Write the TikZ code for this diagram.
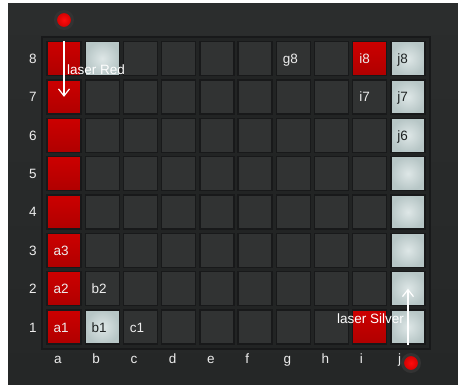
\documentclass[tikz,border=0pt]{standalone}
\usepackage{fontspec}
\setmainfont{Liberation Sans}
\usetikzlibrary{arrows.meta}
\definecolor{panelbg}{HTML}{252727}
\definecolor{panelbgtop}{HTML}{2B2D2D}
\definecolor{framebg}{HTML}{222424}
\definecolor{cellbg}{HTML}{313333}
\definecolor{celledge}{HTML}{18191A}
\definecolor{redtop}{HTML}{CC0000}
\definecolor{redbot}{HTML}{B00000}
\definecolor{silverin}{HTML}{DEE7E7}
\definecolor{silverout}{HTML}{B7C6C6}
\definecolor{labtext}{HTML}{EDEDED}
\definecolor{darktext}{HTML}{1E2222}
\newcommand\setcell[3]{\expandafter\def\csname CT#1\endcsname{#2}\expandafter\def\csname CL#1\endcsname{#3}}
\setcell{a8}{redcell}{}
\setcell{a7}{redcell}{}
\setcell{a6}{redcell}{}
\setcell{a5}{redcell}{}
\setcell{a4}{redcell}{}
\setcell{a3}{redcell}{a3}
\setcell{a2}{redcell}{a2}
\setcell{a1}{redcell}{a1}
\setcell{b8}{silvercell}{}
\setcell{b2}{darkcell}{b2}
\setcell{b1}{silvercell}{b1}
\setcell{c1}{darkcell}{c1}
\setcell{g8}{darkcell}{g8}
\setcell{i8}{redcell}{i8}
\setcell{i7}{darkcell}{i7}
\setcell{i1}{redcell}{}
\setcell{j8}{silvercell}{j8}
\setcell{j7}{silvercell}{j7}
\setcell{j6}{silvercell}{j6}
\setcell{j5}{silvercell}{}
\setcell{j4}{silvercell}{}
\setcell{j3}{silvercell}{}
\setcell{j2}{silvercell}{}
\setcell{j1}{silvercell}{}
\tikzset{
  cellbase/.style={rectangle, minimum width=34pt, minimum height=34pt, inner ysep=0pt,
    inner xsep=6.5pt, text width=21pt, align=left, text height=10pt, text depth=0pt,
    draw=celledge, line width=1.4pt},
  darkcell/.style={cellbase, fill=cellbg, text=labtext},
  redcell/.style={cellbase, top color=redtop, bottom color=redbot, text=labtext},
  silvercell/.style={cellbase, inner color=silverin, outer color=silverout, text=darktext},
  axislabel/.style={text=labtext, inner sep=0pt},
  lasertext/.style={text=white, inner sep=0pt},
  laser/.style={draw=white, line width=1.2pt, -{Straight Barb[length=7pt,width=11pt,line width=1.2pt]}},
  button/.style={circle, minimum size=17pt, inner sep=0pt, inner color=red!95!white, outer color=red!80!black,
    draw=black!80, line width=3pt}
}
\begin{document}
\begin{tikzpicture}[x=1pt,y=-1pt, font=\fontsize{13.5}{16}\selectfont]
\useasboundingbox (0,0) rectangle (458,388);
\fill[white] (0,0) rectangle (458,388);
\fill[top color=panelbgtop, bottom color=panelbg] (8,3) rectangle (458,384);
\draw[fill=framebg, draw=celledge, line width=1.5pt] (42,37) rectangle (430,349);
\node[button] (btn-top) at (64,20) {};
\node[button] (btn-bottom) at (411,363) {};
\foreach \c [count=\i from 0] in {a,b,c,d,e,f,g,h,i,j} {
  \foreach \r in {1,...,8} {
    \edef\key{\c\r}
    \ifcsname CT\key\endcsname
      \edef\sty{\csname CT\key\endcsname}\edef\lab{\csname CL\key\endcsname}
    \else
      \def\sty{darkcell}\def\lab{}
    \fi
    \node[style=\sty] (cell-\key) at ({64+38.22*\i},{58.5+38.36*(8-\r)}) {\lab};
  }
  \node[axislabel, anchor=base west] (col-\c) at ({54+38.22*\i},363) {\c};
}
\foreach \r in {1,...,8} {
  \node[axislabel, anchor=base] (row-\r) at (33,{63.5+38.36*(8-\r)}) {\r};
}
\draw[laser] (cell-a8.north) -- (cell-a7.center);
\draw[laser] (cell-j1.south) -- (cell-j2.center);
\node[lasertext, anchor=base west] (txt-red) at (67,74) {laser Red};
\node[lasertext, anchor=base east] (txt-silver) at (404,323) {laser Silver};
\end{tikzpicture}
\end{document}
